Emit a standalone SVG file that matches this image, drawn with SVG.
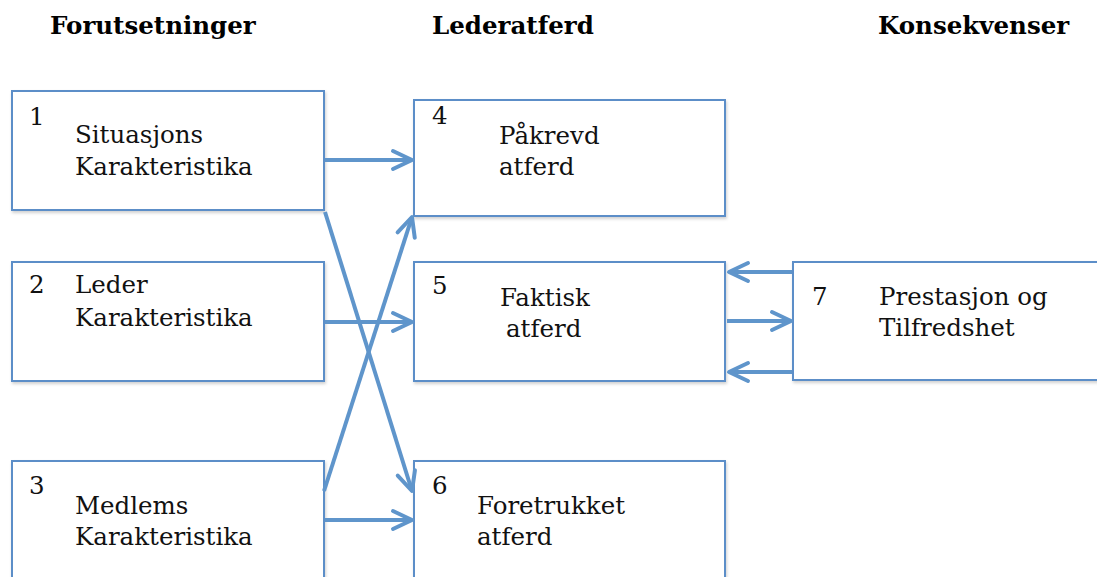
<svg xmlns="http://www.w3.org/2000/svg" width="1097" height="577" viewBox="0 0 1097 577">
<style>
.box{fill:#fff;stroke:#5B8EC8;stroke-width:2;filter:url(#sh)}
.t{font-family:"DejaVu Serif","Liberation Serif",serif;font-size:24.5px;fill:#111}
.h{font-family:"DejaVu Serif","Liberation Serif",serif;font-size:24.5px;font-weight:bold;fill:#000}
.c{stroke:#5F95CB;stroke-width:4;fill:none;marker-end:url(#ah)}
</style>
<defs>
<filter id="sh" x="-5%" y="-5%" width="110%" height="115%">
<feDropShadow dx="1" dy="2" stdDeviation="1.5" flood-color="#000" flood-opacity="0.18"/>
</filter>
<marker id="ah" markerUnits="userSpaceOnUse" viewBox="-24 -12 28 24" refX="0" refY="0" markerWidth="28" markerHeight="24" orient="auto" overflow="visible">
<path d="M-19,-9 L0,0 L-19,9" fill="none" stroke="#5F95CB" stroke-width="4" stroke-linecap="round" stroke-linejoin="round"/>
</marker>
</defs>
<g id="headers">
<text class="h" x="50" y="34">Forutsetninger</text>
<text class="h" x="432" y="34">Lederatferd</text>
<text class="h" x="878" y="34">Konsekvenser</text>
</g>
<g id="node1">
<rect class="box" x="12" y="91" width="312" height="119"/>
<text class="t" x="29" y="125">1</text>
<text class="t" x="75" y="143">Situasjons</text>
<text class="t" x="75" y="175">Karakteristika</text>
</g>
<g id="node2">
<rect class="box" x="12" y="262" width="312" height="119"/>
<text class="t" x="29" y="293">2</text>
<text class="t" x="75" y="293">Leder</text>
<text class="t" x="75" y="326">Karakteristika</text>
</g>
<g id="node3">
<rect class="box" x="12" y="461" width="312" height="140"/>
<text class="t" x="29" y="494">3</text>
<text class="t" x="75" y="514">Medlems</text>
<text class="t" x="75" y="545">Karakteristika</text>
</g>
<g id="node4">
<rect class="box" x="414" y="100" width="311" height="116"/>
<text class="t" x="432" y="124">4</text>
<text class="t" x="499" y="144">Påkrevd</text>
<text class="t" x="499" y="175">atferd</text>
</g>
<g id="node5">
<rect class="box" x="414" y="262" width="311" height="119"/>
<text class="t" x="432" y="294">5</text>
<text class="t" x="500" y="306">Faktisk</text>
<text class="t" x="506" y="337">atferd</text>
</g>
<g id="node6">
<rect class="box" x="414" y="461" width="311" height="140"/>
<text class="t" x="432" y="494">6</text>
<text class="t" x="477" y="514">Foretrukket</text>
<text class="t" x="477" y="545">atferd</text>
</g>
<g id="node7">
<rect class="box" x="793" y="262" width="320" height="118"/>
<text class="t" x="812" y="305">7</text>
<text class="t" x="879" y="305">Prestasjon og</text>
<text class="t" x="879" y="336">Tilfredshet</text>
</g>
<g id="connectors">
<line class="c" x1="325" y1="160" x2="412" y2="160"/>
<line class="c" x1="325" y1="322" x2="412" y2="322"/>
<line class="c" x1="325" y1="520" x2="412" y2="520"/>
<line class="c" x1="325" y1="212" x2="412" y2="491"/>
<line class="c" x1="324" y1="491" x2="412" y2="217"/>
<line class="c" x1="792" y1="272" x2="729" y2="272"/>
<line class="c" x1="727" y1="321" x2="791" y2="321"/>
<line class="c" x1="792" y1="372" x2="729" y2="372"/>
</g>
</svg>
